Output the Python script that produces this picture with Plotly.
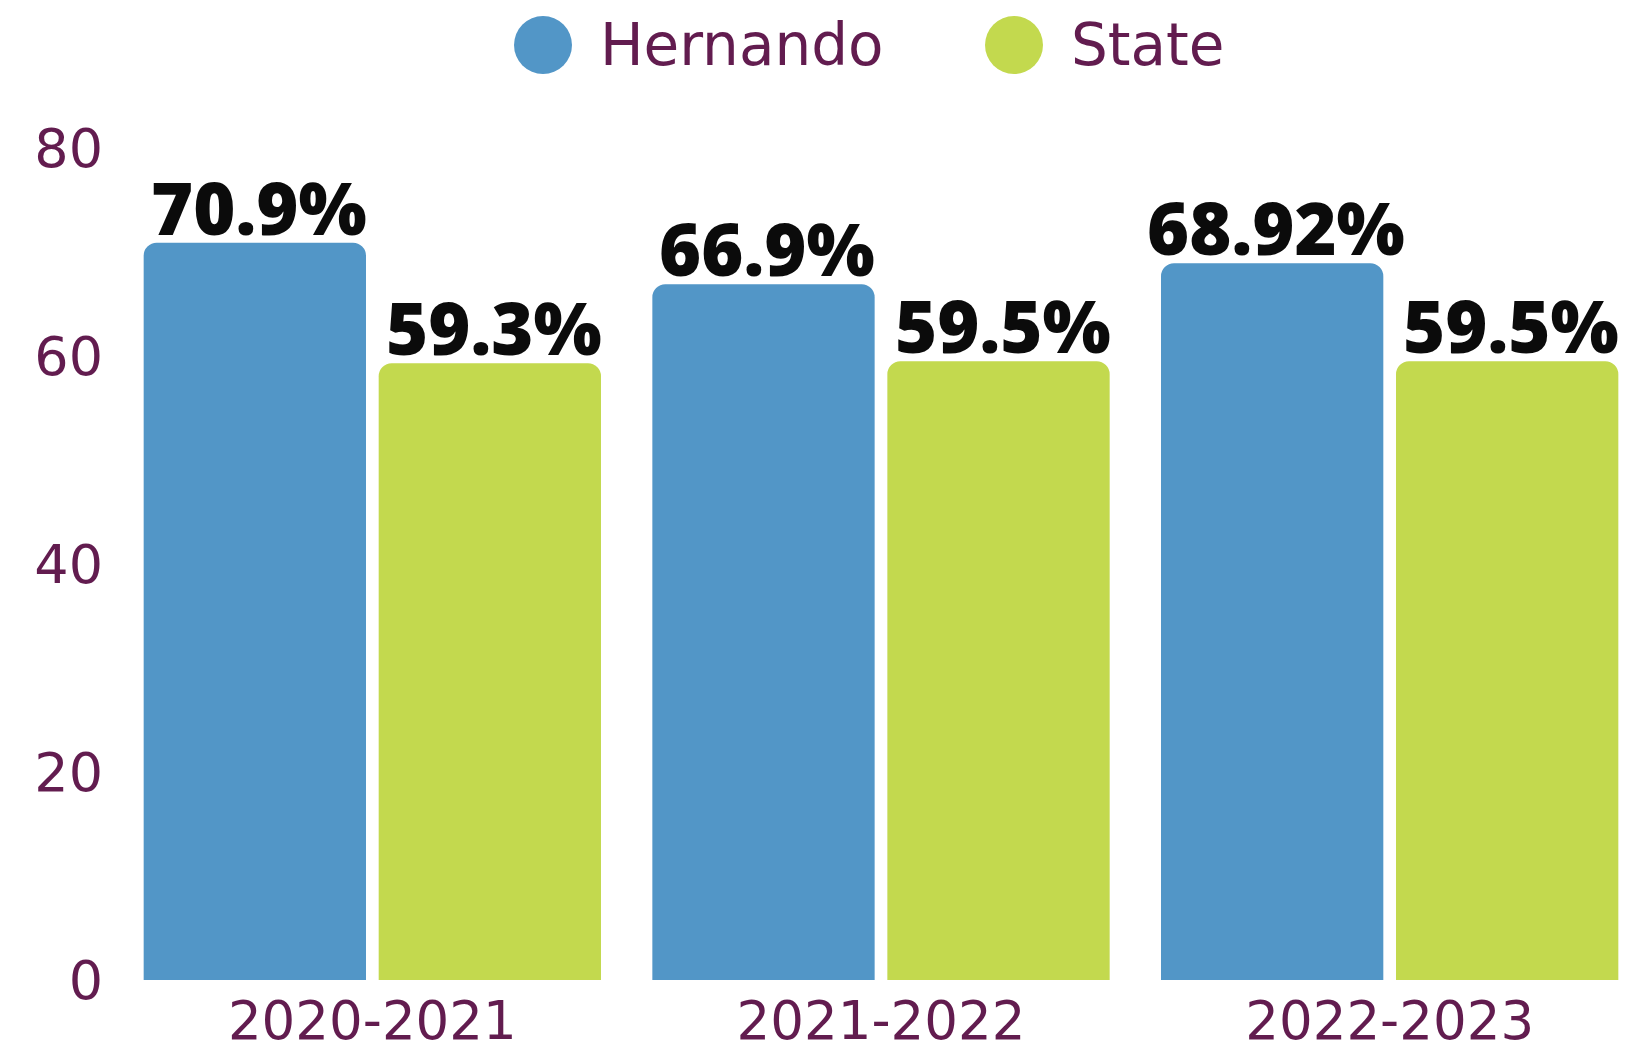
import plotly.graph_objects as go

# School years and rates (%)
years = ["2020-2021", "2021-2022", "2022-2023"]
hernando = [70.9, 66.9, 68.92]
state = [59.3, 59.5, 59.5]
series_names = ["Hernando", "State"]
y_ticks = [0, 20, 40, 60, 80]

BLUE = "#5296C7"
GREEN = "#C3D94E"
PURPLE = "#621C4F"
INK = "#0B0B0B"

W, H = 1644, 1051
ML, MR, MT, MB = 118, 0, 148, 71
BARGAP, GROUPGAP = 0.076, 0.054


def pct(v):
    return f"{v:g}%"


series = [(series_names[0], hernando, BLUE), (series_names[1], state, GREEN)]

fig = go.Figure()
for name, vals, col in series:
    fig.add_trace(go.Bar(
        name=name, x=years, y=vals,
        marker=dict(color=col, line=dict(width=0)),
        showlegend=False,
    ))

fig.update_layout(
    width=W, height=H,
    margin=dict(l=ML, r=MR, t=MT, b=MB, autoexpand=False),
    paper_bgcolor="white", plot_bgcolor="white",
    barmode="group", bargap=BARGAP, bargroupgap=GROUPGAP,
    barcornerradius=13,
    xaxis=dict(
        showgrid=False, zeroline=False, showline=False, ticks="",
        automargin=False,
        tickfont=dict(family="DejaVu Sans", size=53, color=PURPLE),
        ticklabelstandoff=5,
    ),
    yaxis=dict(
        range=[0, 80], tickvals=y_ticks, showgrid=False, zeroline=False,
        showline=False, ticks="", automargin=False,
        tickfont=dict(family="DejaVu Sans", size=54, color=PURPLE),
        ticklabelstandoff=14,
    ),
)

plot_w = W - ML - MR
plot_h = H - MT - MB

# Value labels sitting just above each bar, offset to the bar's slot in its group
cat_w = plot_w / len(years)
slot = (1 - BARGAP) * cat_w / len(series)
for i, (name, vals, col) in enumerate(series):
    dx = (i - (len(series) - 1) / 2) * slot
    for yr, v in zip(years, vals):
        fig.add_annotation(
            x=yr, y=v, xref="x", yref="y",
            xanchor="center", yanchor="bottom", showarrow=False,
            xshift=dx + 4, yshift=-15,
            text=pct(v),
            font=dict(family="Noto Sans", size=72, color=INK, weight=900),
        )


# Custom legend: large round swatches with labels across the top
def px_to_paper_x(px):
    return (px - ML) / plot_w


def px_to_paper_y(py):
    return 1 + (MT - py) / plot_h


legend_y = px_to_paper_y(45)
legend_items = [(series_names[0], BLUE, 543, 598), (series_names[1], GREEN, 1014, 1069)]
for label, col, cx, tx in legend_items:
    fig.add_shape(
        type="circle", xref="paper", yref="paper",
        xsizemode="pixel", ysizemode="pixel",
        xanchor=px_to_paper_x(cx), yanchor=legend_y,
        x0=-29, x1=29, y0=-29, y1=29,
        fillcolor=col, line=dict(width=0),
    )
    fig.add_annotation(
        x=px_to_paper_x(tx), y=legend_y, xref="paper", yref="paper",
        xanchor="left", yanchor="middle", showarrow=False,
        text=label, font=dict(family="DejaVu Sans", size=58, color=PURPLE),
    )

fig.write_html("out.html")
